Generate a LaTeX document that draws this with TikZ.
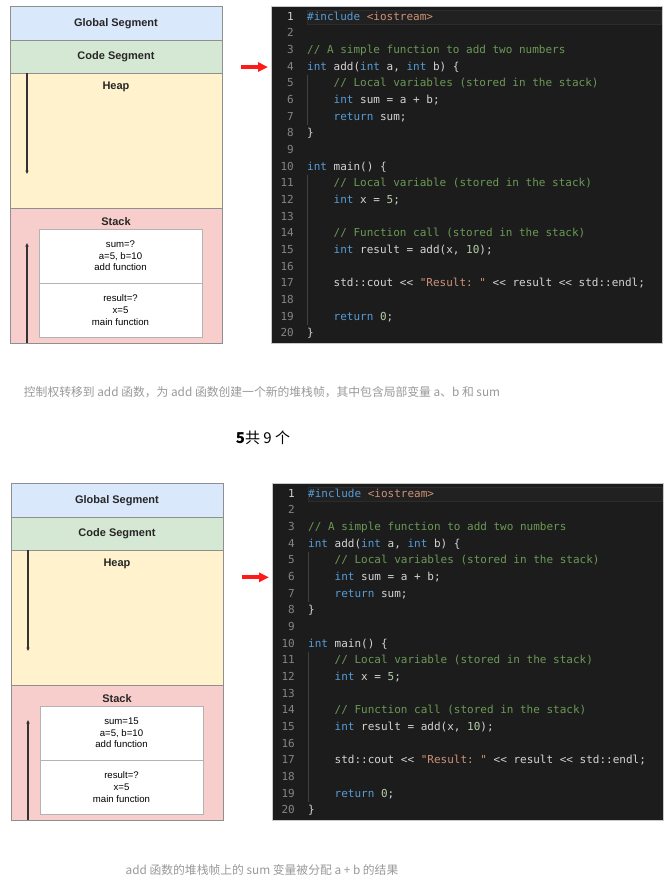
\documentclass[tikz,border=0pt]{standalone}
\usepackage{fontspec}
\setmainfont{Liberation Sans}
\setmonofont{DejaVu Sans Mono}
\newfontfamily\cjkfont{Noto Sans CJK SC}
\usepackage{xcolor}
\usetikzlibrary{arrows.meta,positioning,calc}

\definecolor{globfill}{HTML}{DAE8FC}
\definecolor{codefill}{HTML}{D5E8D4}
\definecolor{heapfill}{HTML}{FFF2CC}
\definecolor{stackfill}{HTML}{F8CECC}
\definecolor{seggray}{HTML}{8F8F8F}
\definecolor{framegray}{HTML}{B3B3B3}
\definecolor{arrowgray}{HTML}{333333}
\definecolor{codeblack}{HTML}{1C1C1C}
\definecolor{hlblack}{HTML}{212121}
\definecolor{hlborder}{HTML}{2C2C2C}
\definecolor{panelgray}{HTML}{C8C8C8}
\definecolor{kwblue}{HTML}{569CD6}
\definecolor{cmgreen}{HTML}{6A9955}
\definecolor{strorange}{HTML}{CE9178}
\definecolor{numgreen}{HTML}{B5CEA8}
\definecolor{codewhite}{HTML}{D4D4D4}
\definecolor{lngray}{HTML}{858585}
\definecolor{lnwhite}{HTML}{D0D0D0}
\definecolor{guidegray}{HTML}{404040}
\definecolor{pointred}{HTML}{FF1A1A}
\definecolor{capgray}{HTML}{999999}

% syntax colours for the code listing
\newcommand{\ckw}[1]{\textcolor{kwblue}{#1}}
\newcommand{\ccm}[1]{\textcolor{cmgreen}{#1}}
\newcommand{\cstr}[1]{\textcolor{strorange}{#1}}
\newcommand{\cnum}[1]{\textcolor{numgreen}{#1}}

\begin{document}
\begin{tikzpicture}[
  x=1pt,y=-1pt,
  seg/.style={rectangle,draw=seggray,line width=0.8pt,minimum width=212pt,
              anchor=north west,inner sep=0pt,outer sep=0pt},
  seglbl/.style={font=\fontsize{11}{13}\selectfont\bfseries,text=black!85,inner sep=0pt},
  frame/.style={rectangle,draw=framegray,fill=white,minimum width=163pt,
                minimum height=54pt,anchor=north west,align=center,
                font=\fontsize{9.6}{11.6}\selectfont,inner sep=0pt,outer sep=0pt},
  growarr/.style={-{Triangle[length=3.5pt,width=3pt]},draw=arrowgray,line width=1.2pt},
  codebg/.style={rectangle,draw=panelgray,fill=codeblack,minimum width=391pt,
                 minimum height=337pt,anchor=north west,outer sep=0pt},
  curline/.style={rectangle,draw=hlborder,fill=hlblack,minimum width=354pt,
                  minimum height=14.5pt,anchor=north west,inner sep=0pt},
  lnum/.style={anchor=base east,font=\fontsize{11}{13}\selectfont\ttfamily,text=lngray,inner sep=0pt},
  loc/.style={anchor=base west,font=\fontsize{11}{13}\selectfont\ttfamily,text=codewhite,inner sep=0pt},
  guide/.style={draw=guidegray,line width=0.6pt},
  pointer/.style={-{Triangle[length=10pt,width=9pt]},draw=pointred,line width=4pt,shorten >=3pt},
  caption/.style={font=\cjkfont\fontsize{11.8}{14}\selectfont,text=capgray},
]

\path[fill=white,use as bounding box] (0,0) rectangle (669,887);

\foreach \p/\dx/\dy/\sumval/\cur in {a/0/0/?/4,b/1/477/15/6}{
\begin{scope}[shift={(\dx,\dy)}]
  % memory layout
  \node[seg,fill=globfill,minimum height=33.5pt] (glob\p) at (10,6.5) {};
  \node[seg,fill=codefill,minimum height=33pt,below=0pt of glob\p] (cseg\p) {};
  \node[seg,fill=heapfill,minimum height=135pt,below=0pt of cseg\p] (heap\p) {};
  \node[seg,fill=stackfill,minimum height=135pt,below=0pt of heap\p] (stack\p) {};
  \node[seglbl] (globtxt\p) at (glob\p) {Global Segment};
  \node[seglbl] (csegtxt\p) at (cseg\p) {Code Segment};
  \node[seglbl,below=8.5pt of heap\p.north] (heaptxt\p) {Heap};
  \node[seglbl,below=9pt of stack\p.north] (stacktxt\p) {Stack};

  \node[frame] (addfr\p) at (39,229) {sum=\sumval\\a=5, b=10\\add function};
  \node[frame,below=0pt of addfr\p] (mainfr\p) {result=?\\x=5\\main function};

  \coordinate (hstart\p) at ($(heap\p.north west)+(17,0)$);
  \coordinate (hend\p) at ($(hstart\p)+(0,101)$);
  \coordinate (sstart\p) at ($(stack\p.south west)+(17,0)$);
  \coordinate (send\p) at ($(sstart\p)+(0,-100)$);
  \draw[growarr] (hstart\p) -- (hend\p);
  \draw[growarr] (sstart\p) -- (send\p);

  % code listing
  \node[codebg] (code\p) at (271,6) {};
  \node[curline] (hl\p) at (307,9.5) {};
  \draw[guide] (307,74.5) -- (307,124.5);
  \draw[guide] (307,174.5) -- (307,324.5);

  \node[lnum,text=lnwhite] (ln\p1) at (294,20) {1};
  \foreach \n in {2,...,20}
    \node[lnum] (ln\p\n) at (294,{20+16.67*(\n-1)}) {\n};

  \node[loc] (cl\p1)  at (307,20)     {\ckw{\#include} \cstr{<iostream>}};
  \node[loc] (cl\p3)  at (307,53.33)  {\ccm{// A simple function to add two numbers}};
  \node[loc] (cl\p4)  at (307,70)     {\ckw{int} add(\ckw{int} a, \ckw{int} b) \{};
  \node[loc] (cl\p5)  at (333.5,86.67)  {\ccm{// Local variables (stored in the stack)}};
  \node[loc] (cl\p6)  at (333.5,103.33) {\ckw{int} sum = a + b;};
  \node[loc] (cl\p7)  at (333.5,120)    {\ckw{return} sum;};
  \node[loc] (cl\p8)  at (307,136.67) {\}};
  \node[loc] (cl\p10) at (307,170)    {\ckw{int} main() \{};
  \node[loc] (cl\p11) at (333.5,186.67) {\ccm{// Local variable (stored in the stack)}};
  \node[loc] (cl\p12) at (333.5,203.33) {\ckw{int} x = \cnum{5};};
  \node[loc] (cl\p14) at (333.5,236.67) {\ccm{// Function call (stored in the stack)}};
  \node[loc] (cl\p15) at (333.5,253.33) {\ckw{int} result = add(x, \cnum{10});};
  \node[loc] (cl\p17) at (333.5,286.67) {std::cout << \cstr{"Result: "} << result << std::endl;};
  \node[loc] (cl\p19) at (333.5,320)    {\ckw{return} \cnum{0};};
  \node[loc] (cl\p20) at (307,336.67) {\}};

  % current line pointer
  \coordinate (ptail\p) at (241,{17+16.67*(\cur-1)});
  \draw[pointer] (ptail\p) -- (ptail\p -| code\p.west);
\end{scope}
}

\node[caption] (capa) at (262,392) {控制权转移到 add 函数，为 add 函数创建一个新的堆栈帧，其中包含局部变量 a、b 和 sum};
\node[font=\cjkfont\fontsize{15}{17}\selectfont] (count) at (263,438) {\textbf{5}共 9 个};
\node[caption] (capb) at (262,870) {add 函数的堆栈帧上的 sum 变量被分配 a + b 的结果};

\end{tikzpicture}
\end{document}
